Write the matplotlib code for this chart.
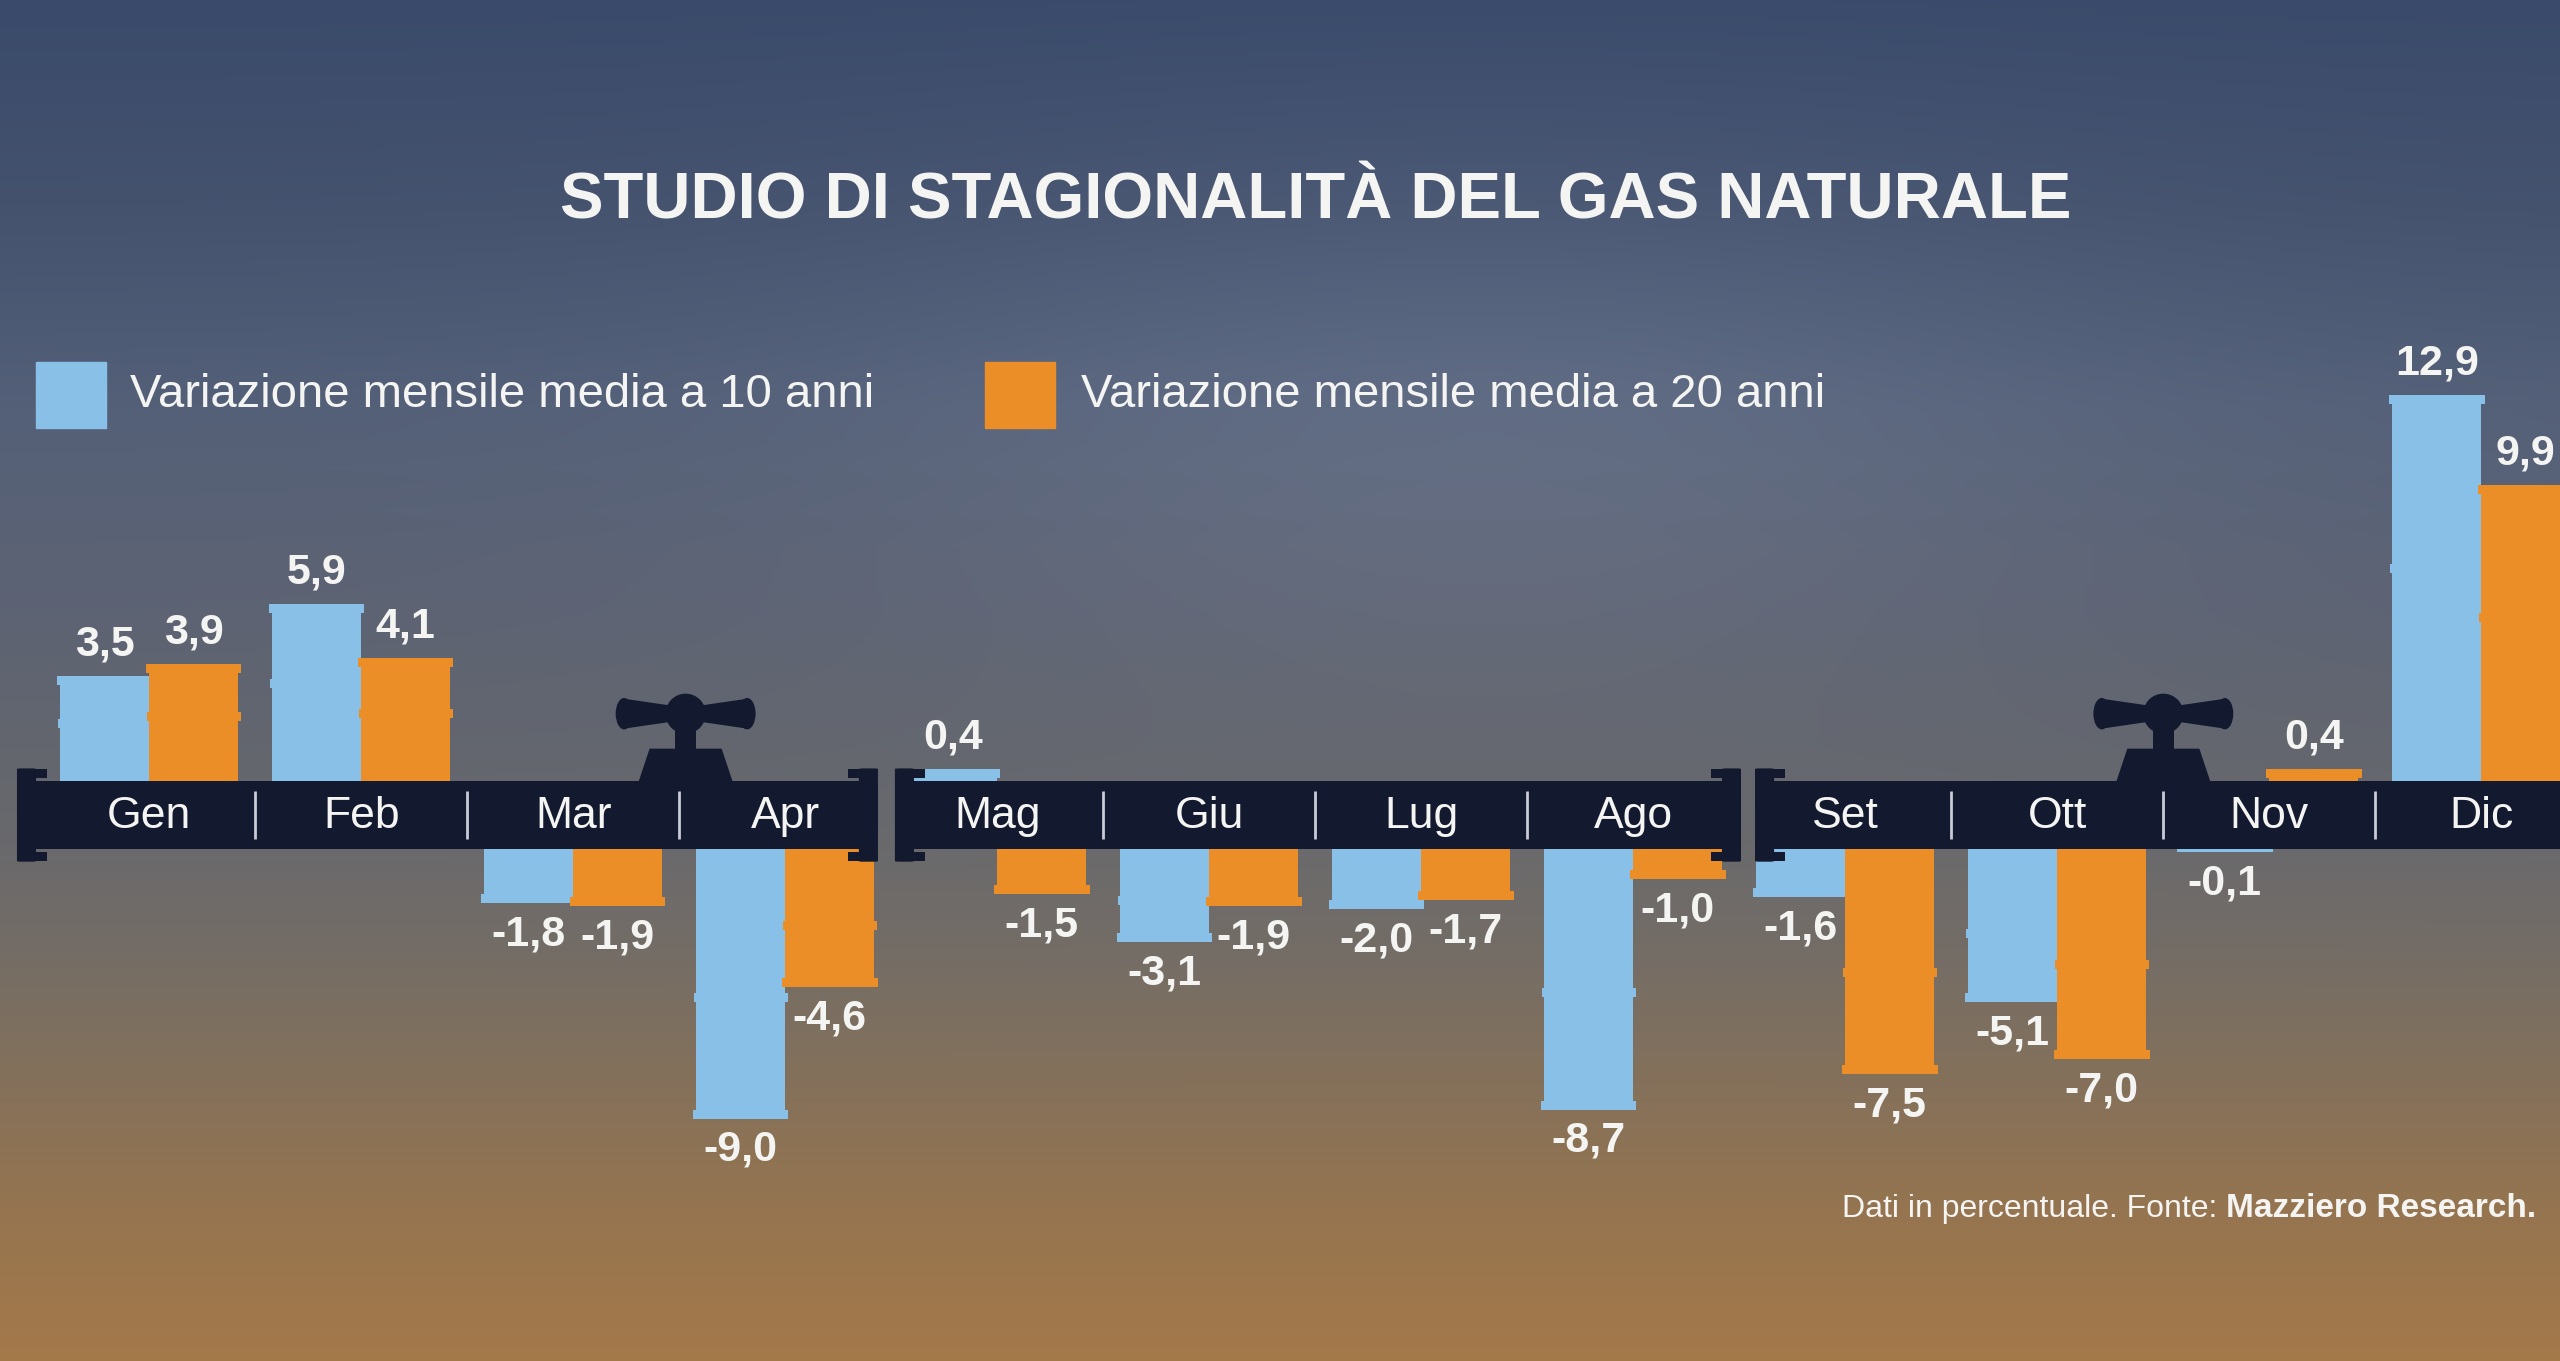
import numpy as np
import matplotlib
matplotlib.use("Agg")
import matplotlib.pyplot as plt
from matplotlib.colors import to_rgb
from matplotlib.patches import Rectangle, Polygon, Ellipse, FancyBboxPatch

# ---------------- data ----------------
months = ["Gen", "Feb", "Mar", "Apr", "Mag", "Giu", "Lug", "Ago", "Set", "Ott", "Nov", "Dic"]
media_10_anni = [3.5, 5.9, -1.8, -9.0, 0.4, -3.1, -2.0, -8.7, -1.6, -5.1, -0.1, 12.9]
media_20_anni = [3.9, 4.1, -1.9, -4.6, -1.5, -1.9, -1.7, -1.0, -7.5, -7.0, 0.4, 9.9]
series_labels = ["Variazione mensile media a 10 anni", "Variazione mensile media a 20 anni"]
title = "STUDIO DI STAGIONALITÀ DEL GAS NATURALE"
note_regular = "Dati in percentuale. Fonte: "
note_bold = "Mazziero Research."

# ---------------- style ----------------
FONT = ["Liberation Sans", "DejaVu Sans"]
plt.rcParams["font.family"] = FONT
BLUE = "#88c0e8"
ORANGE = "#ec8e27"
NAVY = "#131a2f"
WHITE = "#f4f4f2"

W, H_PX = 2560, 1361
fig = plt.figure(figsize=(W / 100, H_PX / 100), dpi=100)

# background gradient
bg = fig.add_axes([0, 0, 1, 1], zorder=0)
bg.set_axis_off()
stops = [(0.00, "#3a4a6a"), (0.15, "#44526e"), (0.30, "#546078"),
         (0.45, "#5d6373"), (0.55, "#63666e"), (0.62, "#69696c"),
         (0.70, "#746d66"), (0.80, "#85715a"), (0.90, "#97754f"), (1.00, "#a4794a")]
ys = np.linspace(0, 1, 400)
xs = np.linspace(0, 1, 400)
cols = np.array([to_rgb(c) for _, c in stops])
pos = np.array([p for p, _ in stops])
img = np.zeros((len(ys), len(xs), 3))
for k in range(3):
    img[:, :, k] = np.interp(ys, pos, cols[:, k])[:, None]
X, Y = np.meshgrid(xs, ys)
glow = np.exp(-(((X - 0.58) / 0.25) ** 2 + ((Y - 0.30) / 0.20) ** 2))
img = np.clip(img + glow[:, :, None] * 0.05, 0, 1)
bg.imshow(img, extent=[0, 1, 0, 1], aspect="auto", origin="upper")
bg.set_xlim(0, 1)
bg.set_ylim(0, 1)

# main axes
ax = fig.add_axes([0, 0, 1, 1], zorder=1)
ax.set_axis_off()
ax.patch.set_alpha(0)
ax.set_xlim(-0.704, 11.371)
ax.set_ylim(-18.26, 27.26)

HB = 1.15          # half height of the pipe band (data units)
BW = 0.42          # bar width
x = np.arange(len(months))

def draw_series(vals, offset, color):
    vals = np.asarray(vals)
    base = np.where(vals >= 0, HB, -HB)
    ax.bar(x + offset, vals, width=BW, bottom=base, color=color, zorder=2, linewidth=0)
    ends = base + vals
    sgn = np.sign(vals)
    ax.bar(x + offset, -sgn * 0.30, width=BW + 0.03, bottom=ends, color=color, zorder=2, linewidth=0)
    big = np.abs(vals) >= 3
    mids = base + vals * 0.55
    ax.bar((x + offset)[big], 0.30, width=BW + 0.025, bottom=mids[big] - 0.15,
           color=color, zorder=2, linewidth=0)
    for xi, v, e in zip(x + offset, vals, ends):
        lab = f"{v:.1f}".replace(".", ",")
        ax.text(xi, e + np.sign(v) * 1.05, lab, ha="center", va="center",
                fontsize=31, fontweight="bold", color=WHITE, zorder=5)

draw_series(media_10_anni, -BW / 2, BLUE)
draw_series(media_20_anni, BW / 2, ORANGE)

# pipe band segments
segments = [(-0.624, 3.437), (3.517, 7.508), (7.574, 11.6)]
for a, b in segments:
    ax.add_patch(Rectangle((a, -HB), b - a, 2 * HB, color=NAVY, zorder=3, linewidth=0))
    for fx in (a, b - 0.09):
        ax.add_patch(FancyBboxPatch((fx + 0.01, -1.55), 0.07, 3.1,
                                    boxstyle="round,pad=0.01,rounding_size=0.02",
                                    color=NAVY, zorder=3, linewidth=0))
    for yy in (1.25, -1.55):
        ax.add_patch(Rectangle((a, yy), 0.14, 0.3, color=NAVY, zorder=3, linewidth=0))
        ax.add_patch(Rectangle((b - 0.14, yy), 0.14, 0.3, color=NAVY, zorder=3, linewidth=0))

# separators between months
for i in range(len(months) - 1):
    if i in (3, 7):
        continue
    ax.plot([i + 0.5, i + 0.5], [-0.8, 0.8], color="#c9ccd4", lw=2, zorder=4,
            solid_capstyle="butt")

# month labels
for xi, m in zip(x, months):
    ax.text(xi, -0.05, m, ha="center", va="center", fontsize=32, color=WHITE, zorder=5)

# valves
def valve(cx):
    ax.add_patch(Polygon([(cx - 0.225, HB - 0.1), (cx + 0.225, HB - 0.1),
                          (cx + 0.17, HB + 1.07), (cx - 0.17, HB + 1.07)],
                         closed=True, color=NAVY, zorder=3, linewidth=0))
    ax.add_patch(Rectangle((cx - 0.05, HB + 1.0), 0.10, 0.8, color=NAVY, zorder=3, linewidth=0))
    yc = HB + 2.24
    ax.add_patch(Polygon([(cx - 0.29, yc + 0.5), (cx, yc + 0.2), (cx + 0.29, yc + 0.5),
                          (cx + 0.29, yc - 0.5), (cx, yc - 0.2), (cx - 0.29, yc - 0.5)],
                         closed=True, color=NAVY, zorder=3, linewidth=0))
    for ex in (cx - 0.29, cx + 0.29):
        ax.add_patch(Ellipse((ex, yc), 0.08, 1.05, color=NAVY, zorder=3, linewidth=0))
    ax.add_patch(Ellipse((cx, yc), 0.19, 1.34, color=NAVY, zorder=3, linewidth=0))

valve(2.53)
valve(9.50)

# title
fig.text(0.514, 0.852, title, ha="center", va="center", fontsize=47,
         fontweight="bold", color=WHITE)

# legend
for (lx, tx), col, lab in zip([(0.0141, 0.0508), (0.3848, 0.4223)], [BLUE, ORANGE], series_labels):
    fig.patches.append(Rectangle((lx, 0.6855), 0.0273, 0.0485, transform=fig.transFigure,
                                 color=col, zorder=2))
    fig.text(tx, 0.7098, lab, ha="left", va="center", fontsize=34, color=WHITE)

# footnote
tb = fig.text(0.9906, 0.112, note_bold, ha="right", va="center", fontsize=24,
              fontweight="bold", color=WHITE)
ax.annotate(note_regular, xy=(0, 0.5), xycoords=tb, ha="right", va="center",
            fontsize=23, color=WHITE, annotation_clip=False)

fig.savefig("out.png", dpi=100)
